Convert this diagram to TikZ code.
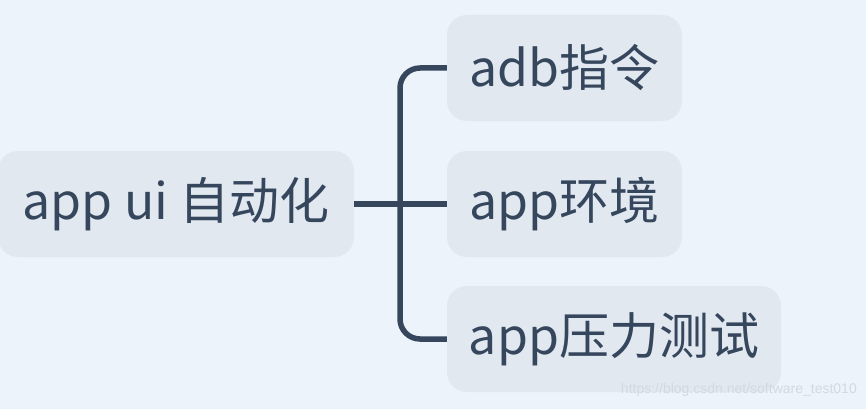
\documentclass[tikz,border=0pt]{standalone}
\usepackage{fontspec}
\setmainfont{Noto Sans CJK SC}
\newfontfamily\wmfont{Liberation Sans}
\definecolor{bgc}{HTML}{EDF3FA}
\definecolor{boxc}{HTML}{E1E8F0}
\definecolor{inkc}{HTML}{35465D}
\definecolor{wmc}{HTML}{D2D9E2}
\begin{document}
\begin{tikzpicture}[x=1pt,y=-1pt,
  topic/.style={fill=boxc,rounded corners=20pt,inner sep=0pt,minimum height=106pt,text=inkc,font=\fontsize{50}{54}\selectfont},
  link/.style={draw=inkc,line width=5.5pt}]
\fill[bgc] (0,0) rectangle (866,409);
\useasboundingbox (0,0) rectangle (866,409);
\node[topic,minimum width=356pt] (root) at (176,204) {app ui 自动化};
\node[topic,minimum width=235pt] (adb) at (564.5,68) {adb指令};
\node[topic,minimum width=235pt] (env) at (564.5,204) {app环境};
\node[topic,minimum width=334pt] (test) at (614,339) {app压力测试};
\coordinate (jc) at (400,204);
\draw[link] (root.east) -- (env.west);
\draw[link,rounded corners=20pt] (adb.west) -| (jc) |- (test.west);
\node[text=wmc,font=\wmfont\fontsize{14}{16}\selectfont,anchor=east,inner sep=0pt] (wm) at (857,390) {https://blog.csdn.net/software\_test010};
\end{tikzpicture}
\end{document}
